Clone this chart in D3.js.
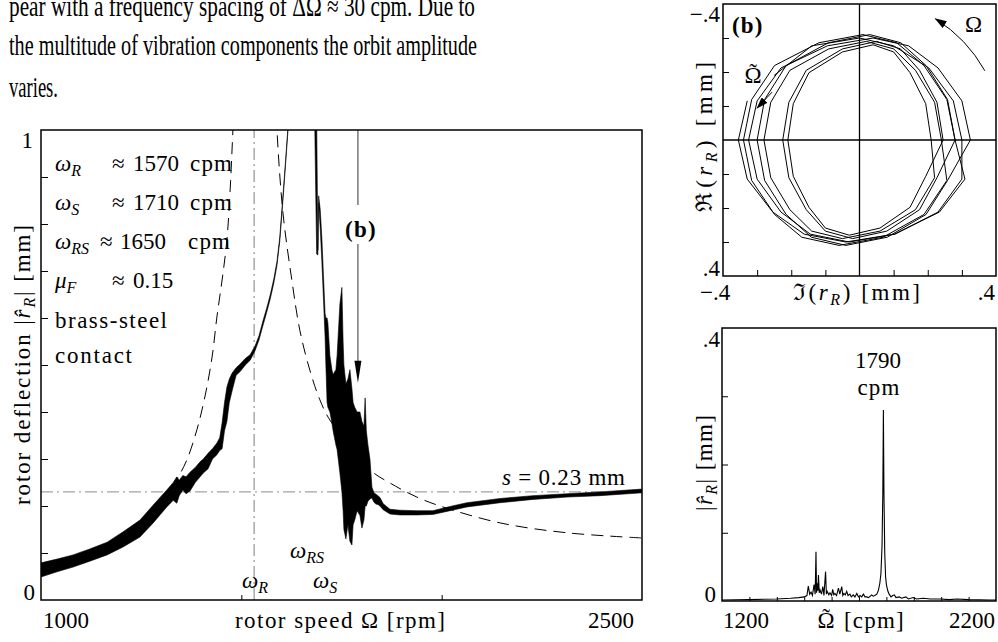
<!DOCTYPE html>
<html>
<head>
<meta charset="UTF-8">
<title></title>
<script src="https://cdn.jsdelivr.net/npm/d3@7"></script>
<style>
    body{margin:0;background:#fff;}
    svg text{font-family:'Liberation Serif','DejaVu Serif',serif;font-size:23px;fill:#000;}
    svg text.w{letter-spacing:1.2px;}
    svg text.body{font-size:29px;}
    .frame{fill:none;stroke:#000;stroke-width:1.5;}
    .tick line{stroke:#000;stroke-width:1;}
    .dashdot{stroke:#a3a3a3;stroke-width:1.4;stroke-dasharray:12,4,2,4;fill:none;}
    .model{stroke:#000;stroke-width:1;stroke-dasharray:12,7;fill:none;}
</style>
</head>
<body>
<svg width="998" height="642"></svg>
<script>
// ---- main plot: measured run-up, rotor deflection vs rotor speed ----
var solidRpm = [1000,1040,1080,1120,1165,1205,1247,1280,1314,1330,1339,1345,1354,1362,1372,1385,1397,1405,1417,1428,1439,1446,1452,1458,1464,1470,1477,1487,1497,1510,1522,1534,1544,1554,1563,1572,1581,1589,1596,1601,1605,1609,1616,1626,1681,1688,1691,1693,1697,1701,1705,1709,1711,1714,1716,1721,1726,1729,1736,1739,1746,1751,1754,1756,1761,1766,1771,1776,1779,1783,1789,1796,1801,1806,1809,1812,1816,1821,1826,1831,1836,1841,1846,1854,1871,1896,1938,1978,2021,2063,2146,2228,2313,2395,2500];
var solidHi = [.079,.087,.096,.108,.123,.145,.170,.202,.234,.250,.262,.255,.265,.262,.272,.282,.294,.300,.312,.322,.334,.345,.377,.42,.453,.47,.483,.494,.502,.514,.522,.540,.562,.594,.620,.649,.683,.721,.773,.828,.873,.919,1.002,1.15,1.15,1.03,.745,.86,.83,.77,.69,.61,.60,.60,.59,.52,.49,.48,.49,.52,.63,.665,.55,.50,.46,.47,.49,.45,.42,.41,.40,.40,.38,.37,.43,.36,.33,.30,.24,.228,.225,.222,.218,.205,.193,.191,.19,.19,.199,.207,.216,.222,.226,.230,.236];
var solidLo = [.049,.060,.070,.082,.096,.113,.134,.164,.198,.212,.206,.222,.234,.226,.232,.250,.262,.270,.279,.300,.309,.318,.322,.36,.380,.42,.445,.478,.486,.500,.510,.530,.553,.584,.611,.640,.674,.712,.764,.819,.864,.910,.993,1.14,1.14,.736,.734,.845,.79,.72,.64,.56,.50,.42,.41,.40,.377,.36,.33,.32,.27,.23,.19,.15,.13,.16,.125,.117,.16,.17,.19,.18,.153,.17,.20,.20,.21,.215,.217,.208,.204,.203,.200,.192,.183,.181,.181,.182,.190,.198,.207,.214,.219,.222,.228];

// linear model (dashed), two branches around the resonance
var modelRpmL = [1300,1334,1364,1389,1409,1427,1439,1452,1464,1472,1479,1487];
var modelValL = [.205,.249,.298,.362,.432,.517,.602,.681,.766,.872,1.0,1.15];
var modelRpmR = [1583,1589,1604,1626,1646,1671,1696,1721,1821,1871,1938,2003,2146,2313,2500];
var modelValR = [1.15,1.0,.823,.681,.574,.489,.426,.383,.277,.249,.219,.198,.164,.143,.132];

var omegaRLine = 1532;     // vertical dash-dot
var sLine = 0.23;          // horizontal dash-dot, s = 0.23 mm
var markB = 1791;          // (b) arrow
var markBEnd = 0.462;
var yTicks = [.1,.2,.3,.4,.5,.6,.7,.8,.9];
var xTicks = [1500,2000];

// ---- orbit (b): [Im, Re] in mm ----
var orbit = [
 [-.329,-.115],[-.355,0],[-.329,.115],[-.254,.212],[-.162,.277],[-.04,.30],[.102,.277],[.234,.212],[.309,.115],
 [.28,0],[.256,-.119],[.189,-.219],[.109,-.286],[.01,-.31],[-.119,-.286],[-.249,-.219],[-.316,-.119],[-.34,0],[-.316,.119],[-.249,.219],[-.169,.286],[-.06,.31],[.069,.286],[.189,.219],[.256,.119],
 [.24,0],[.22,-.111],[.164,-.205],[.10,-.268],[.02,-.29],[-.09,-.268],[-.204,-.205],[-.26,-.111],[-.28,0],[-.26,.111],[-.204,.205],[-.14,.268],[-.05,.29],[.06,.268],[.164,.205],[.22,.111],
 [.21,0],[.194,-.107],[.148,-.198],[.10,-.259],[.04,-.28],[-.05,-.259],[-.148,-.198],[-.194,-.107],[-.21,0],[-.194,.107],[-.148,.198],[-.10,.259],[-.03,.28],[.06,.259],[.148,.198],[.194,.107],
 [.245,0],[.227,-.111],[.176,-.205],[.12,-.268],[.05,-.29],[-.05,-.268],[-.156,-.205],[-.207,-.111],[-.225,0],[-.207,.111],[-.156,.205],[-.10,.268],[-.02,.29],[.08,.268],[.176,.205],[.227,.111],
 [.28,0],[.258,-.119],[.195,-.219],[.121,-.286],[.03,-.31],[-.091,-.286],[-.215,-.219],[-.278,-.119],[-.30,0],[-.278,.119],[-.215,.219],[-.141,.286],[-.04,.31],[.081,.286],[.195,.219],[.258,.119],
 [.325,0],[.30,-.115],[.23,-.212],[.144,-.277],[.04,-.30],[-.094,-.277],[-.23,-.212],[-.30,-.115],[-.325,0],[-.30,.115],[-.23,.212],[-.144,.277],[-.03,.30],[.104,.277],[.23,.212],[.30,.115],
 [.30,0],[.275,-.115],[.203,-.212],[.10,-.277],[0,-.30],[-.14,-.277],[-.25,-.19]
];
var orbitTicks = [-.3,-.2,-.1,.1,.2,.3];

// ---- spectrum: [cpm, amplitude mm] ----
var spectrum = [[1200,.0015],[1300,.002],[1400,.003],[1450,.004],[1480,.005],[1500,.006],[1510,.008],[1515,.022],[1520,.01],[1525,.013],[1530,.008],[1536,.024],[1540,.01],[1543,.072],[1545,.012],[1548,.026],[1550,.015],[1552,.038],[1555,.012],[1558,.016],[1563,.01],[1568,.021],[1572,.008],[1578,.043],[1581,.01],[1584,.014],[1590,.009],[1594,.012],[1600,.008],[1604,.017],[1608,.009],[1612,.011],[1618,.008],[1625,.019],[1630,.01],[1637,.021],[1641,.008],[1645,.011],[1650,.009],[1655,.014],[1660,.008],[1667,.01],[1672,.006],[1679,.009],[1685,.006],[1692,.011],[1698,.006],[1704,.008],[1710,.006],[1716,.01],[1722,.006],[1728,.006],[1735,.005],[1746,.009],[1752,.007],[1758,.008],[1765,.01],[1771,.016],[1776,.026],[1780,.04],[1784,.08],[1787,.16],[1789,.28],[1791,.16],[1794,.07],[1797,.036],[1800,.024],[1805,.015],[1810,.01],[1817,.006],[1823,.008],[1829,.009],[1835,.005],[1847,.006],[1855,.004],[1871,.006],[1880,.003],[1898,.005],[1910,.003],[1935,.004],[1960,.003],[1996,.003],[2030,.002],[2057,.003],[2100,.002],[2178,.0015],[2200,.0015]];
var specYTicks = [.1,.2,.3];
var specXTicks = [1300,1400,1500,1600,1700,1800,1900,2000,2100];

var svg = d3.select("svg");

// text with italic / subscript parts
function rich(g, px, py, parts, anchor, rot) {
    var t = g.append("text").attr("x", px).attr("y", py).attr("text-anchor", anchor || "start");
    if (rot) t.attr("transform", "rotate(-90," + px + "," + py + ")");
    var shift = 0;
    parts.forEach(function (p) {
        var o = p[1] || "";
        var s = t.append("tspan").text(p[0]);
        if (o.indexOf("i") >= 0) s.attr("font-style", "italic");
        if (o.indexOf("b") >= 0) s.attr("font-weight", "bold");
        if (o.indexOf("s") >= 0) {
            s.attr("font-size", 16);
            if (shift == 0) { s.attr("dy", 5); shift = 5; }
        } else if (shift != 0) { s.attr("dy", -shift); shift = 0; }
    });
    return t;
}
// Omega with a tilde drawn above it
function omegaTilde(g, cx, py) {
    g.append("text").attr("x", cx).attr("y", py).attr("text-anchor", "middle").text("\u03A9");
    g.append("text").attr("x", cx).attr("y", py - 3).attr("text-anchor", "middle").text("\u02DC");
}

// ---- body text above ----
[[16, 466, "pear with a frequency spacing of \u0394\u03A9 \u2248 30 cpm.  Due to"],
 [55, 468, "the multitude of vibration components the orbit amplitude"],
 [97, 49, "varies."]].forEach(function (l) {
    svg.append("text").attr("class", "body").attr("x", 9).attr("y", l[0])
        .attr("textLength", l[1]).attr("lengthAdjust", "spacingAndGlyphs").text(l[2]);
});

// ================= main plot =================
var x = d3.scaleLinear().domain([1000, 2500]).range([41, 642]);
var y = d3.scaleLinear().domain([0, 1]).range([600, 130]);
var main = svg.append("g");
svg.append("clipPath").attr("id", "clipMain").append("rect")
    .attr("x", 41).attr("y", 130).attr("width", 601).attr("height", 470);
var plotA = main.append("g").attr("clip-path", "url(#clipMain)");

plotA.append("line").attr("class", "dashdot")
    .attr("x1", x(omegaRLine)).attr("x2", x(omegaRLine)).attr("y1", y(0)).attr("y2", y(1));
plotA.append("line").attr("class", "dashdot")
    .attr("x1", x(1000)).attr("x2", x(2500)).attr("y1", y(sLine)).attr("y2", y(sLine));

var mline = d3.line().x(function (d) { return x(d[0]); }).y(function (d) { return y(d[1]); }).curve(d3.curveCatmullRom);
plotA.append("path").attr("class", "model").attr("d", mline(d3.zip(modelRpmL, modelValL)));
plotA.append("path").attr("class", "model").attr("d", mline(d3.zip(modelRpmR, modelValR)));

var band = d3.area()
    .x(function (d) { return x(d[0]); })
    .y0(function (d) { return y(d[2]); })
    .y1(function (d) { return y(d[1]); });
plotA.append("path").attr("d", band(d3.zip(solidRpm, solidHi, solidLo)))
    .attr("fill", "#000").attr("stroke", "#000").attr("stroke-width", 0.6);

// (b) arrow
var bx = x(markB);
main.append("line").attr("x1", bx).attr("x2", bx).attr("y1", y(1)).attr("y2", 205).attr("stroke", "#333");
main.append("line").attr("x1", bx).attr("x2", bx).attr("y1", 244).attr("y2", y(markBEnd) - 18).attr("stroke", "#333");
main.append("path").attr("fill", "#000")
    .attr("d", "M" + (bx - 3.5) + "," + (y(markBEnd) - 22) + "L" + (bx + 3.5) + "," + (y(markBEnd) - 22) + "L" + bx + "," + y(markBEnd) + "Z");
rich(main, bx + 3, 237, [["(b)", "b"]], "middle").attr("class", "w");

// axes ticks
var ya = main.append("g").attr("transform", "translate(41,0)")
    .call(d3.axisLeft(y).tickValues(yTicks).tickSize(-7).tickFormat(""));
ya.select(".domain").remove();
var xa = main.append("g").attr("transform", "translate(0,600)")
    .call(d3.axisBottom(x).tickValues(xTicks).tickSize(-5).tickFormat(""));
xa.select(".domain").remove();
main.append("rect").attr("class", "frame").attr("x", 41).attr("y", 130).attr("width", 601).attr("height", 470);

main.append("text").attr("x", 33).attr("y", 148).attr("text-anchor", "end").text("1");
main.append("text").attr("x", 35).attr("y", 600).attr("text-anchor", "end").text("0");
main.append("text").attr("x", 43).attr("y", 628).text("1000");
main.append("text").attr("x", 634).attr("y", 628).attr("text-anchor", "end").text("2500");
main.append("text").attr("x", 235).attr("y", 628).attr("textLength", 210).text("rotor speed \u03A9 [rpm]");
rich(main, 30, 365, [["rotor deflection |"], ["r\u0302", "i"], ["R", "is"], ["| [mm]"]], "middle", true)
    .attr("textLength", 280);

// parameter block
rich(main, 55, 171, [["\u03C9", "i"], ["R", "is"]]);
rich(main, 55, 210, [["\u03C9", "i"], ["S", "is"]]);
rich(main, 55, 249, [["\u03C9", "i"], ["RS", "is"]]);
rich(main, 55, 288, [["\u03BC", "i"], ["F", "is"]]);
[[112, 133, 171, "1570", 190], [112, 133, 210, "1710", 190], [100, 120, 249, "1650", 188], [112, 133, 288, "0.15", 0]]
    .forEach(function (r) {
        main.append("text").attr("x", r[0]).attr("y", r[2]).text("\u2248");
        main.append("text").attr("x", r[1]).attr("y", r[2]).text(r[3]);
        if (r[4]) main.append("text").attr("class", "w").attr("x", r[4]).attr("y", r[2]).text("cpm");
    });
main.append("text").attr("x", 55).attr("y", 328).attr("textLength", 112).text("brass-steel");
main.append("text").attr("x", 55).attr("y", 363).attr("textLength", 77).text("contact");

rich(main, 242, 588, [["\u03C9", "i"], ["R", "is"]]);
rich(main, 290, 558, [["\u03C9", "i"], ["RS", "is"]]);
rich(main, 313, 588, [["\u03C9", "i"], ["S", "is"]]);
rich(main, 502, 485, [["s", "i"], [" = 0.23 mm"]]).attr("textLength", 123);

// ================= orbit (b) =================
var ox = d3.scaleLinear().domain([-.4, .4]).range([723, 996]);
var oy = d3.scaleLinear().domain([-.4, .4]).range([4, 276]);
var orb = svg.append("g");
svg.append("clipPath").attr("id", "clipOrb").append("rect")
    .attr("x", 723).attr("y", 4).attr("width", 273).attr("height", 272);
orb.append("line").attr("x1", ox(-.4)).attr("x2", ox(.4)).attr("y1", oy(0)).attr("y2", oy(0)).attr("stroke", "#000").attr("stroke-width", 1.3);
orb.append("line").attr("x1", ox(0)).attr("x2", ox(0)).attr("y1", oy(-.4)).attr("y2", oy(.4)).attr("stroke", "#000").attr("stroke-width", 1.3);
orb.append("g").attr("clip-path", "url(#clipOrb)").append("path")
    .attr("d", d3.line().x(function (d) { return ox(d[0]); }).y(function (d) { return oy(d[1]); })(orbit))
    .attr("fill", "none").attr("stroke", "#000").attr("stroke-width", 1).attr("stroke-linejoin", "round");
var oya = orb.append("g").attr("transform", "translate(723,0)")
    .call(d3.axisLeft(oy).tickValues(orbitTicks).tickSize(-6).tickFormat(""));
oya.select(".domain").remove();
var oxa = orb.append("g").attr("transform", "translate(0,276)")
    .call(d3.axisBottom(ox).tickValues(orbitTicks).tickSize(-6).tickFormat(""));
oxa.select(".domain").remove();
orb.append("rect").attr("class", "frame").attr("x", 723).attr("y", 4).attr("width", 273).attr("height", 272);

// rotation arrows
var defs = svg.append("defs");
defs.append("marker").attr("id", "head").attr("viewBox", "0 0 12 8").attr("refX", 11).attr("refY", 4)
    .attr("markerWidth", 12).attr("markerHeight", 8).attr("markerUnits", "userSpaceOnUse").attr("orient", "auto")
    .append("path").attr("d", "M0,0L12,4L0,8Z").attr("fill", "#000");
var arcR = ox(.42) - ox(0);
var a0 = 29 * Math.PI / 180, a1 = 58 * Math.PI / 180;
orb.append("path")
    .attr("d", "M" + ox(.42 * Math.cos(a0)) + "," + oy(-.42 * Math.sin(a0)) +
        "A" + arcR + "," + arcR + " 0 0 0 " + ox(.42 * Math.cos(a1)) + "," + oy(-.42 * Math.sin(a1)))
    .attr("fill", "none").attr("stroke", "#000").attr("stroke-width", 1).attr("marker-end", "url(#head)");
orb.append("line").attr("x1", ox(-.256)).attr("y1", oy(-.141)).attr("x2", ox(-.300)).attr("y2", oy(-.094))
    .attr("stroke", "#000").attr("stroke-width", 1).attr("marker-end", "url(#head)");

rich(orb, 732, 33, [["(b)", "b"]]).attr("class", "w");
orb.append("text").attr("x", 965).attr("y", 32).text("\u03A9");
omegaTilde(orb, 753, 83);
orb.append("text").attr("x", 720).attr("y", 22).attr("text-anchor", "end").text("\u2212.4");
orb.append("text").attr("x", 720).attr("y", 276).attr("text-anchor", "end").text(".4");
orb.append("text").attr("x", 700).attr("y", 300).text("\u2212.4");
orb.append("text").attr("x", 995).attr("y", 300).attr("text-anchor", "end").text(".4");
rich(orb, 793, 300, [["\u2111("], ["r", "i"], ["R", "is"], [") [mm]"]]).attr("textLength", 127);
rich(orb, 712, 137, [["\u211C("], ["r", "i"], ["R", "is"], [") [mm]"]], "middle", true).attr("textLength", 150);

// ================= spectrum =================
var sx = d3.scaleLinear().domain([1200, 2200]).range([722, 996]);
var sy = d3.scaleLinear().domain([0, .4]).range([601, 328]);
var spec = svg.append("g");
spec.append("path")
    .attr("d", d3.line().x(function (d) { return sx(d[0]); }).y(function (d) { return sy(d[1]); })(spectrum))
    .attr("fill", "none").attr("stroke", "#000").attr("stroke-width", 1.1);
var sya = spec.append("g").attr("transform", "translate(722,0)")
    .call(d3.axisLeft(sy).tickValues(specYTicks).tickSize(-6).tickFormat(""));
sya.select(".domain").remove();
var sxa = spec.append("g").attr("transform", "translate(0,601)")
    .call(d3.axisBottom(sx).tickValues(specXTicks).tickSize(-4).tickFormat(""));
sxa.select(".domain").remove();
spec.append("rect").attr("class", "frame").attr("x", 722).attr("y", 328).attr("width", 274).attr("height", 273);

spec.append("text").attr("x", 720).attr("y", 347).attr("text-anchor", "end").text(".4");
spec.append("text").attr("x", 716).attr("y", 602).attr("text-anchor", "end").text("0");
spec.append("text").attr("x", 723).attr("y", 628).text("1200");
spec.append("text").attr("x", 995).attr("y", 628).attr("text-anchor", "end").text("2200");
omegaTilde(spec, 826, 628);
spec.append("text").attr("class", "w").attr("x", 844).attr("y", 628).text("[cpm]");
spec.append("text").attr("x", 878).attr("y", 368).attr("text-anchor", "middle").text("1790");
spec.append("text").attr("class", "w").attr("x", 879).attr("y", 395).attr("text-anchor", "middle").text("cpm");
rich(spec, 712, 463, [["|"], ["r\u0302", "i"], ["R", "is"], ["| [mm]"]], "middle", true).attr("textLength", 96);
</script>
</body>
</html>
